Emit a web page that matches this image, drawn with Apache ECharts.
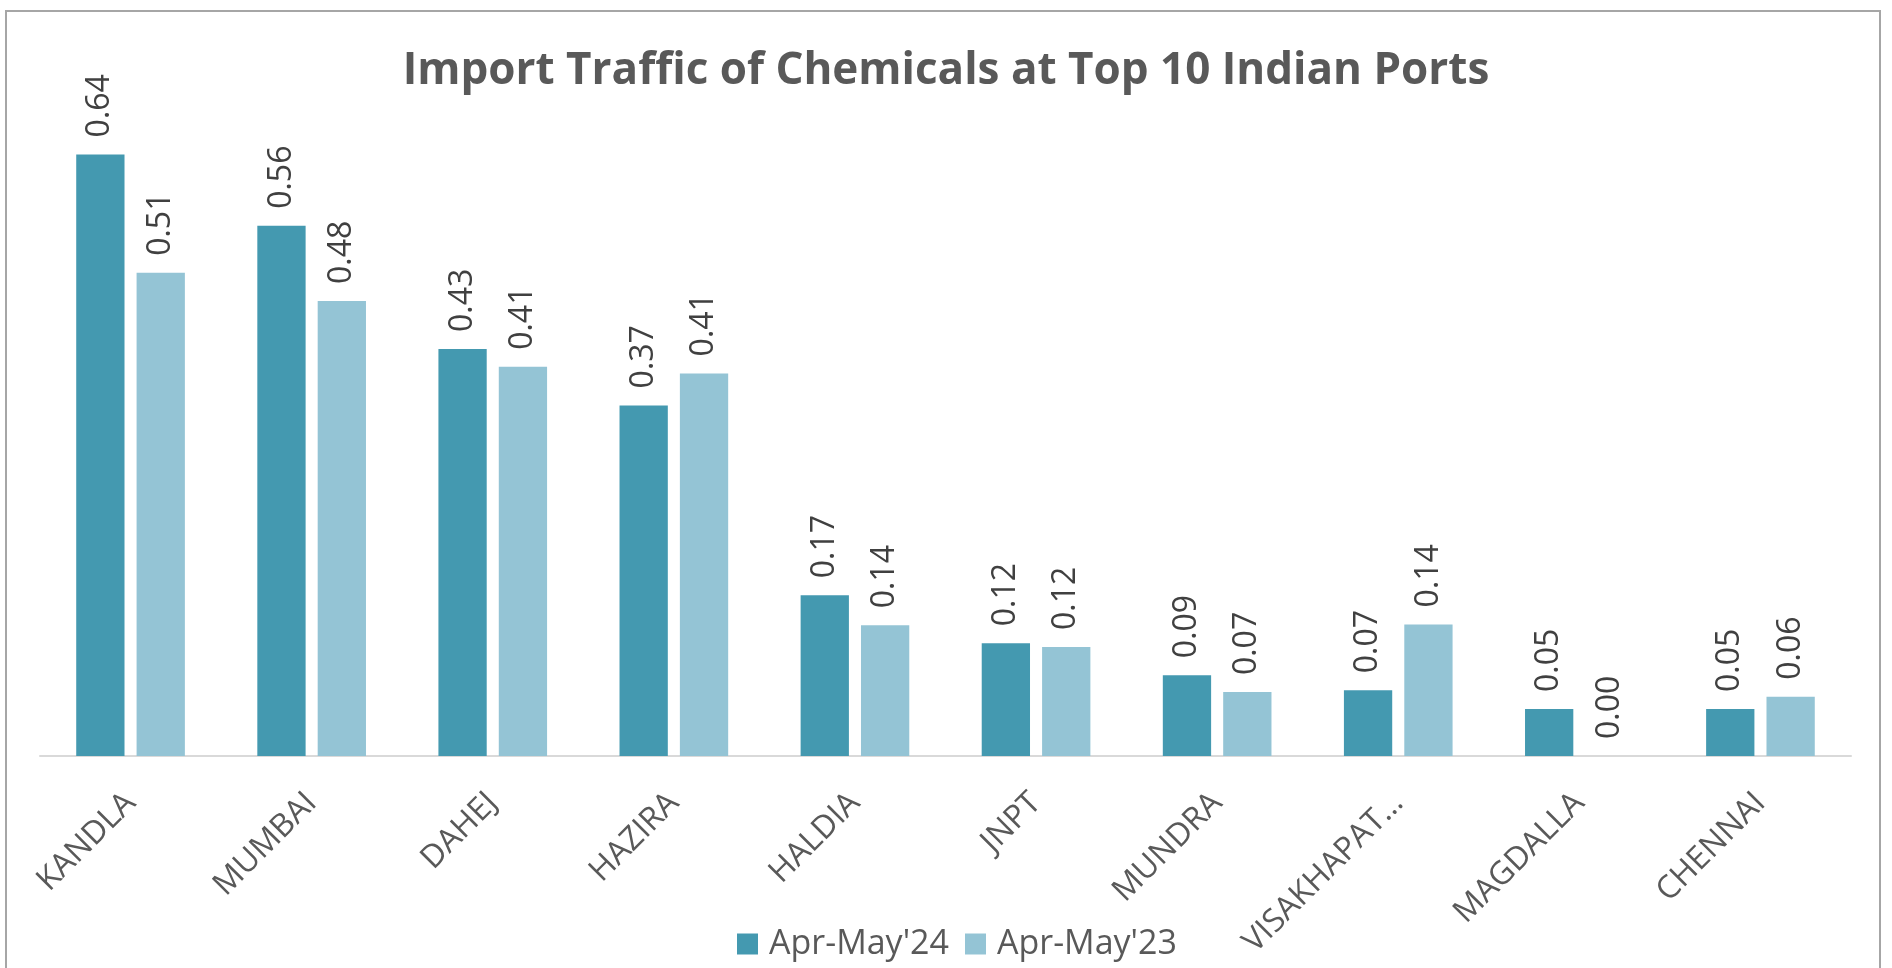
<!DOCTYPE html>
<html lang="en">
<head>
    <meta charset="UTF-8">
    <title>Import Traffic of Chemicals at Top 10 Indian Ports</title>
    <script src="https://cdn.jsdelivr.net/npm/echarts@6/dist/echarts.min.js"></script>
    <style>
        html, body {
            margin: 0;
            padding: 0;
            background: #ffffff;
        }
        #chart {
            width: 1892px;
            height: 968px;
        }
    </style>
</head>
<body>
<div id="chart"></div>

<script>
    // data (million tonnes)
    const ports = ['KANDLA', 'MUMBAI', 'DAHEJ', 'HAZIRA', 'HALDIA', 'JNPT', 'MUNDRA', 'VISAKHAPAT…', 'MAGDALLA', 'CHENNAI'];
    const seriesNames = ["Apr-May'24", "Apr-May'23"];
    const aprMay24 = [0.64, 0.564, 0.433, 0.373, 0.171, 0.12, 0.086, 0.07, 0.05, 0.05];
    const aprMay23 = [0.514, 0.484, 0.414, 0.407, 0.139, 0.116, 0.068, 0.14, 0, 0.063];

    const barColors = ['#4499b0', '#94c4d5'];

    const chart = echarts.init(document.getElementById('chart'));

    const labelStyle = {
        show: true,
        position: 'top',
        rotate: 90,
        align: 'left',
        verticalAlign: 'middle',
        distance: 17,
        fontFamily: 'Open Sans',
        fontSize: 32,
        color: '#404040',
        formatter: p => p.value.toFixed(2)
    };

    const option = {
        animation: false,
        backgroundColor: '#ffffff',
        title: {
            text: 'Import Traffic of Chemicals at Top 10 Indian Ports',
            left: 'center',
            top: 44,
            textStyle: {
                fontFamily: 'Open Sans',
                fontWeight: 'bold',
                fontSize: 44,
                color: '#595959'
            }
        },
        legend: {
            data: seriesNames,
            left: 737,
            top: 927,
            padding: 0,
            itemWidth: 21,
            itemHeight: 21,
            itemGap: 16,
            icon: 'rect',
            textStyle: {
                fontFamily: 'Open Sans',
                fontSize: 34,
                color: '#595959',
                padding: [0, 0, 0, 6]
            }
        },
        grid: {
            left: 40,
            right: 41,
            top: 98,
            bottom: 212
        },
        xAxis: {
            type: 'category',
            data: ports,
            axisLine: {
                lineStyle: { color: '#d9d9d9', width: 2 }
            },
            axisTick: { show: false },
            axisLabel: {
                interval: 0,
                rotate: 45,
                margin: 42,
                fontFamily: 'Open Sans',
                fontSize: 32,
                color: '#595959'
            }
        },
        yAxis: {
            type: 'value',
            min: 0,
            max: 0.7,
            show: false
        },
        series: [
            {
                name: seriesNames[0],
                type: 'bar',
                data: aprMay24,
                barGap: '25%',
                barCategoryGap: '40%',
                itemStyle: { color: barColors[0] },
                label: labelStyle
            },
            {
                name: seriesNames[1],
                type: 'bar',
                data: aprMay23,
                barGap: '25%',
                barCategoryGap: '40%',
                itemStyle: { color: barColors[1] },
                label: labelStyle
            }
        ],
        graphic: [
            {
                type: 'rect',
                shape: { x: 6, y: 11, width: 1874, height: 1000 },
                style: { fill: 'none', stroke: '#a6a6a6', lineWidth: 2 },
                silent: true
            }
        ]
    };

    chart.setOption(option);
</script>
</body>
</html>
